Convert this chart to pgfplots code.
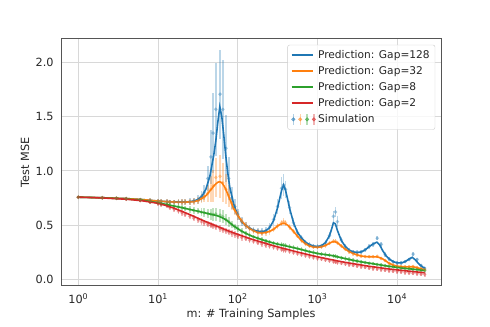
\documentclass[border=0pt]{standalone}
\usepackage{fontspec}
\setmainfont{DejaVu Sans}
\usepackage{pgfplots}
\usepackage{pgfplotstable}
\pgfplotsset{compat=1.18}
\definecolor{tabblue}{HTML}{1F77B4}
\definecolor{taborange}{HTML}{FF7F0E}
\definecolor{tabgreen}{HTML}{2CA02C}
\definecolor{tabred}{HTML}{D62728}
\definecolor{gridgray}{HTML}{D8D8D8}
\definecolor{framegray}{HTML}{555555}
\definecolor{textgray}{HTML}{262626}

% prediction curves: m, Gap=128, Gap=32, Gap=8, Gap=2
\pgfplotstableread{
m B O G R
1 0.757 0.757 0.757 0.757
1.995 0.752 0.752 0.751 0.750
3.981 0.744 0.744 0.741 0.738
6.310 0.735 0.735 0.729 0.724
10 0.721 0.721 0.705 0.700
12.59 0.716 0.716 0.690 0.680
15.85 0.713 0.712 0.675 0.655
19.95 0.712 0.711 0.660 0.626
25.12 0.715 0.713 0.643 0.595
28.18 0.722 0.716 0.635 0.579
31.62 0.735 0.725 0.627 0.562
35.48 0.765 0.745 0.618 0.546
39.81 0.830 0.770 0.610 0.530
44.67 0.950 0.815 0.601 0.515
50.12 1.150 0.860 0.593 0.500
53.09 1.280 0.880 0.588 0.492
56.23 1.450 0.895 0.583 0.485
59.57 1.595 0.900 0.576 0.477
63.10 1.500 0.890 0.568 0.470
66.83 1.330 0.865 0.559 0.462
70.79 1.140 0.830 0.548 0.455
74.99 0.980 0.785 0.535 0.447
79.43 0.850 0.740 0.520 0.440
89.13 0.690 0.650 0.490 0.426
100 0.590 0.590 0.465 0.413
112.2 0.530 0.535 0.442 0.400
125.9 0.495 0.495 0.423 0.387
141.3 0.470 0.465 0.405 0.374
158.5 0.452 0.445 0.390 0.362
177.8 0.442 0.430 0.377 0.351
199.5 0.438 0.425 0.365 0.340
223.9 0.445 0.430 0.353 0.329
251.2 0.475 0.440 0.342 0.318
281.8 0.540 0.460 0.332 0.307
316.2 0.660 0.490 0.322 0.297
335.0 0.740 0.502 0.318 0.292
354.8 0.820 0.510 0.314 0.287
375.8 0.870 0.515 0.310 0.283
398.1 0.820 0.510 0.307 0.278
421.7 0.740 0.498 0.302 0.273
446.7 0.655 0.480 0.298 0.268
501.2 0.520 0.440 0.290 0.258
562.3 0.430 0.395 0.281 0.249
631.0 0.380 0.355 0.272 0.240
707.9 0.340 0.325 0.262 0.231
794.3 0.318 0.305 0.252 0.222
891.3 0.305 0.295 0.244 0.213
1000 0.300 0.293 0.236 0.205
1122 0.308 0.297 0.230 0.197
1259 0.335 0.310 0.225 0.190
1413 0.400 0.330 0.220 0.182
1496 0.455 0.340 0.217 0.178
1585 0.520 0.345 0.214 0.175
1679 0.510 0.343 0.210 0.171
1778 0.450 0.335 0.205 0.167
1995 0.355 0.305 0.196 0.160
2239 0.300 0.275 0.188 0.153
2512 0.265 0.252 0.180 0.147
2818 0.250 0.235 0.172 0.141
3162 0.245 0.222 0.165 0.135
3548 0.250 0.212 0.158 0.129
3981 0.270 0.207 0.152 0.123
4467 0.300 0.205 0.146 0.117
5012 0.325 0.205 0.140 0.112
5559 0.340 0.204 0.135 0.108
6026 0.315 0.198 0.131 0.104
6607 0.260 0.185 0.126 0.100
7244 0.215 0.165 0.121 0.096
7943 0.185 0.145 0.117 0.092
8913 0.160 0.128 0.112 0.088
10000 0.148 0.118 0.107 0.084
11220 0.148 0.114 0.102 0.080
12589 0.160 0.112 0.098 0.076
14125 0.185 0.112 0.094 0.072
15488 0.200 0.113 0.091 0.069
16982 0.175 0.108 0.088 0.066
18621 0.140 0.100 0.085 0.063
20417 0.115 0.092 0.081 0.060
22131 0.099 0.085 0.078 0.057
}\predtable

% simulation: m, mean and error for each gap
\pgfplotstableread{
m b be o oe g ge r re
1 0.757 0.010 0.757 0.010 0.757 0.010 0.757 0.010
2 0.752 0.010 0.752 0.010 0.751 0.010 0.750 0.010
3 0.748 0.010 0.748 0.010 0.747 0.010 0.746 0.012
4 0.744 0.012 0.744 0.012 0.741 0.012 0.738 0.012
6 0.734 0.015 0.734 0.015 0.731 0.015 0.724 0.015
8 0.725 0.020 0.725 0.020 0.718 0.020 0.710 0.020
10 0.720 0.020 0.720 0.020 0.705 0.020 0.698 0.020
11 0.718 0.020 0.718 0.020 0.698 0.020 0.688 0.020
13 0.716 0.020 0.716 0.020 0.690 0.020 0.676 0.020
14 0.714 0.020 0.714 0.020 0.683 0.020 0.662 0.025
16 0.713 0.020 0.712 0.020 0.675 0.020 0.645 0.025
18 0.712 0.025 0.711 0.025 0.668 0.025 0.628 0.025
20 0.712 0.025 0.711 0.025 0.660 0.025 0.612 0.025
22 0.713 0.025 0.712 0.025 0.652 0.025 0.597 0.025
25 0.715 0.030 0.713 0.030 0.643 0.030 0.580 0.025
28 0.722 0.030 0.716 0.030 0.635 0.030 0.564 0.025
32 0.735 0.040 0.725 0.030 0.627 0.030 0.547 0.025
35 0.765 0.050 0.745 0.040 0.618 0.035 0.531 0.030
38 0.800 0.070 0.760 0.050 0.613 0.040 0.520 0.030
42 0.930 0.120 0.790 0.080 0.606 0.045 0.507 0.030
46 1.130 0.250 0.830 0.120 0.600 0.050 0.497 0.030
49 1.350 0.370 0.860 0.150 0.595 0.060 0.490 0.030
53 1.570 0.430 0.940 0.180 0.600 0.060 0.482 0.030
60 1.710 0.410 0.950 0.200 0.590 0.060 0.467 0.030
65 1.570 0.460 0.890 0.180 0.575 0.060 0.455 0.030
71 1.210 0.310 0.830 0.140 0.550 0.050 0.445 0.030
77 0.930 0.200 0.770 0.100 0.530 0.045 0.435 0.030
84 0.750 0.100 0.700 0.060 0.505 0.035 0.422 0.030
92 0.670 0.070 0.640 0.050 0.483 0.030 0.410 0.030
100 0.600 0.050 0.590 0.040 0.465 0.030 0.398 0.030
112 0.530 0.040 0.535 0.030 0.442 0.025 0.385 0.030
126 0.495 0.030 0.495 0.030 0.423 0.025 0.372 0.025
141 0.470 0.030 0.465 0.030 0.405 0.025 0.359 0.025
158 0.452 0.030 0.445 0.030 0.390 0.020 0.347 0.025
178 0.442 0.030 0.430 0.030 0.377 0.020 0.336 0.025
200 0.440 0.030 0.425 0.030 0.365 0.020 0.325 0.025
224 0.447 0.030 0.430 0.030 0.353 0.020 0.314 0.025
251 0.480 0.040 0.440 0.030 0.342 0.020 0.303 0.025
282 0.550 0.050 0.460 0.030 0.332 0.020 0.292 0.025
316 0.670 0.070 0.490 0.030 0.325 0.020 0.282 0.025
355 0.840 0.100 0.520 0.030 0.318 0.020 0.272 0.025
376 0.870 0.100 0.530 0.030 0.315 0.020 0.268 0.025
398 0.830 0.080 0.520 0.030 0.310 0.020 0.263 0.025
447 0.660 0.060 0.480 0.030 0.300 0.020 0.253 0.025
501 0.520 0.040 0.440 0.020 0.290 0.020 0.243 0.020
562 0.430 0.030 0.395 0.020 0.281 0.020 0.234 0.020
631 0.380 0.030 0.355 0.020 0.272 0.020 0.225 0.020
708 0.340 0.020 0.325 0.020 0.262 0.020 0.216 0.020
794 0.318 0.020 0.305 0.020 0.252 0.020 0.207 0.020
891 0.305 0.020 0.295 0.020 0.244 0.020 0.198 0.020
1000 0.300 0.020 0.293 0.020 0.236 0.020 0.190 0.020
1122 0.308 0.020 0.297 0.020 0.230 0.020 0.182 0.020
1259 0.335 0.025 0.310 0.020 0.225 0.020 0.175 0.020
1413 0.400 0.030 0.330 0.020 0.220 0.020 0.167 0.020
1585 0.580 0.050 0.350 0.020 0.214 0.020 0.160 0.020
1679 0.620 0.050 0.350 0.020 0.210 0.020 0.156 0.020
1778 0.530 0.050 0.335 0.020 0.205 0.020 0.152 0.020
1995 0.360 0.030 0.305 0.020 0.196 0.020 0.145 0.020
2239 0.300 0.020 0.275 0.020 0.188 0.020 0.138 0.020
2512 0.265 0.020 0.252 0.020 0.180 0.020 0.132 0.020
2818 0.250 0.020 0.235 0.020 0.172 0.020 0.126 0.020
3162 0.245 0.020 0.222 0.020 0.165 0.020 0.120 0.020
3548 0.250 0.020 0.212 0.020 0.158 0.020 0.114 0.020
3981 0.270 0.020 0.207 0.015 0.152 0.015 0.108 0.020
4467 0.300 0.020 0.205 0.015 0.146 0.015 0.102 0.020
5012 0.320 0.020 0.205 0.015 0.140 0.015 0.097 0.020
5623 0.377 0.020 0.210 0.015 0.134 0.015 0.092 0.020
6310 0.320 0.020 0.190 0.015 0.128 0.015 0.087 0.020
7079 0.225 0.020 0.170 0.015 0.122 0.015 0.082 0.020
7943 0.185 0.015 0.145 0.015 0.117 0.015 0.077 0.020
8913 0.160 0.015 0.128 0.015 0.112 0.015 0.073 0.020
10000 0.148 0.015 0.118 0.015 0.107 0.015 0.069 0.020
11220 0.148 0.015 0.114 0.015 0.102 0.015 0.065 0.020
12589 0.160 0.015 0.112 0.015 0.098 0.015 0.061 0.020
14125 0.180 0.015 0.112 0.015 0.094 0.015 0.057 0.020
15849 0.230 0.015 0.115 0.015 0.090 0.015 0.053 0.020
17783 0.180 0.015 0.105 0.015 0.086 0.015 0.049 0.020
19953 0.125 0.015 0.095 0.015 0.082 0.015 0.045 0.020
22131 0.100 0.015 0.085 0.015 0.078 0.015 0.042 0.020
}\simtable

\begin{document}
\begin{tikzpicture}
\path[use as bounding box] (0,0) rectangle (460.8pt,307.5pt);
\begin{axis}[
  at={(57.4pt,38.6pt)}, anchor=south west,
  scale only axis, width=357.4pt, height=232.3pt,
  xmode=log, xmin=0.607, xmax=35560,
  ymin=-0.0648, ymax=2.222,
  xtick={1,10,100,1000,10000},
  xticklabels={10\textsuperscript{0},10\textsuperscript{1},10\textsuperscript{2},10\textsuperscript{3},10\textsuperscript{4}},
  xminorticks=false,
  ytick={0,0.5,1,1.5,2},
  yticklabels={0.0,0.5,1.0,1.5,2.0},
  grid=major,
  major grid style={gridgray, line width=0.8pt},
  axis line style={framegray, line width=0.9pt},
  major tick length=0pt,
  tick label style={text=textgray, font=\fontsize{10.6}{12.5}\selectfont},
  xticklabel style={yshift=-3.5pt},
  yticklabel style={xshift=-3.5pt},
  label style={text=textgray, font=\fontsize{10.6}{12.5}\selectfont},
  xlabel={m: \# Training Samples},
  ylabel={Test MSE},
  x label style={at={(axis description cs:0.5,-0.117)}, anchor=center},
  y label style={at={(axis description cs:-0.095,0.5)}, anchor=center},
  legend style={at={(1,1)}, anchor=north east, xshift=-5.5pt, yshift=-5.5pt,
    draw=gray!40, rounded corners=2pt, fill=white, fill opacity=0.8, text opacity=1,
    font=\fontsize{10}{12}\selectfont, text=textgray, row sep=2pt, inner sep=3pt},
  legend cell align=left,
  legend image code/.code={\draw[#1] (0pt,0pt) -- (20pt,0pt);},
]
% simulations
\addplot[forget plot, only marks, mark=*, mark size=1.8pt, color=tabblue,
  mark options={draw opacity=0, fill opacity=0.4},
  error bars/.cd, y dir=both, y explicit, error mark=none,
  error bar style={tabblue, line width=1.6pt, opacity=0.3}]
  table[x=m, y=b, y error=be]{\simtable};
\addplot[forget plot, only marks, mark=*, mark size=1.8pt, color=taborange,
  mark options={draw opacity=0, fill opacity=0.4},
  error bars/.cd, y dir=both, y explicit, error mark=none,
  error bar style={taborange, line width=1.6pt, opacity=0.3}]
  table[x=m, y=o, y error=oe]{\simtable};
\addplot[forget plot, only marks, mark=*, mark size=1.8pt, color=tabgreen,
  mark options={draw opacity=0, fill opacity=0.4},
  error bars/.cd, y dir=both, y explicit, error mark=none,
  error bar style={tabgreen, line width=1.6pt, opacity=0.3}]
  table[x=m, y=g, y error=ge]{\simtable};
\addplot[forget plot, only marks, mark=*, mark size=1.8pt, color=tabred,
  mark options={draw opacity=0, fill opacity=0.4},
  error bars/.cd, y dir=both, y explicit, error mark=none,
  error bar style={tabred, line width=1.6pt, opacity=0.3}]
  table[x=m, y=r, y error=re]{\simtable};
% predictions
\addplot[tabblue, line width=1.5pt, no marks] table[x=m, y=B]{\predtable};
\addlegendentry{Prediction: Gap=128}
\addplot[taborange, line width=1.5pt, no marks] table[x=m, y=O]{\predtable};
\addlegendentry{Prediction: Gap=32}
\addplot[tabgreen, line width=1.5pt, no marks] table[x=m, y=G]{\predtable};
\addlegendentry{Prediction: Gap=8}
\addplot[tabred, line width=1.5pt, no marks] table[x=m, y=R]{\predtable};
\addlegendentry{Prediction: Gap=2}
\addlegendimage{legend image code/.code={
  \draw[tabblue, line width=1.2pt, opacity=0.35] (1.6pt,-5pt) -- (1.6pt,5pt);
  \fill[tabblue, opacity=0.55] (1.6pt,0pt) circle (1.7pt);
  \draw[taborange, line width=1.2pt, opacity=0.35] (8.1pt,-5pt) -- (8.1pt,5pt);
  \fill[taborange, opacity=0.55] (8.1pt,0pt) circle (1.7pt);
  \draw[tabgreen, line width=1.2pt, opacity=0.35] (14.6pt,-5pt) -- (14.6pt,5pt);
  \fill[tabgreen, opacity=0.55] (14.6pt,0pt) circle (1.7pt);
  \draw[tabred, line width=1.2pt, opacity=0.35] (21pt,-5pt) -- (21pt,5pt);
  \fill[tabred, opacity=0.55] (21pt,0pt) circle (1.7pt);
}}
\addlegendentry{Simulation}
\end{axis}
\end{tikzpicture}
\end{document}
